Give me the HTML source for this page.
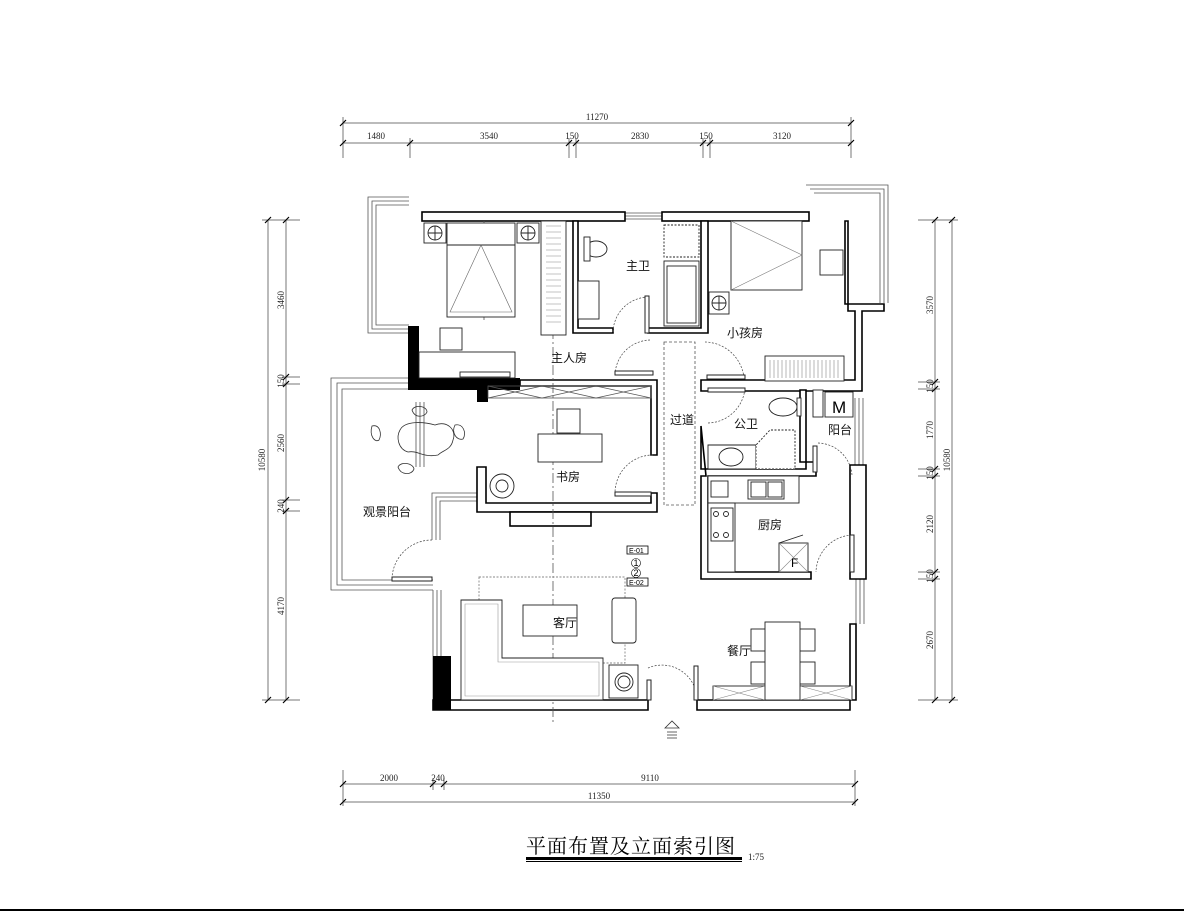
<!DOCTYPE html>
<html><head><meta charset="utf-8"><style>
html,body{margin:0;padding:0;background:#fff;}
svg{display:block}
.t{font-family:"Liberation Serif","Noto Serif CJK SC",serif;font-size:9px;fill:#222}
.l{font-family:"Liberation Sans","Noto Sans CJK SC",sans-serif;font-size:12px;fill:#111}
</style></head><body>
<svg width="1184" height="912" viewBox="0 0 1184 912" xmlns="http://www.w3.org/2000/svg">
<rect width="1184" height="912" fill="#fff"/>
<!-- dimension lines -->
<g stroke="#777" stroke-width="1" fill="none">
<line x1="343" y1="123" x2="851" y2="123"/>
<line x1="343" y1="143" x2="851" y2="143"/>
<line x1="343" y1="117" x2="343" y2="158"/><line x1="851" y1="117" x2="851" y2="158"/>
<line x1="410" y1="138" x2="410" y2="158"/><line x1="569" y1="138" x2="569" y2="158"/><line x1="576" y1="138" x2="576" y2="158"/>
<line x1="703" y1="138" x2="703" y2="158"/><line x1="710" y1="138" x2="710" y2="158"/>
<line x1="268" y1="220" x2="268" y2="700"/><line x1="286" y1="220" x2="286" y2="700"/>
<line x1="262" y1="220" x2="300" y2="220"/><line x1="262" y1="700" x2="300" y2="700"/>
<line x1="282" y1="377" x2="300" y2="377"/><line x1="282" y1="384" x2="300" y2="384"/>
<line x1="282" y1="500" x2="300" y2="500"/><line x1="282" y1="511" x2="300" y2="511"/>
<line x1="935" y1="220" x2="935" y2="700"/><line x1="952" y1="220" x2="952" y2="700"/>
<line x1="918" y1="220" x2="958" y2="220"/><line x1="918" y1="700" x2="958" y2="700"/>
<line x1="918" y1="382" x2="940" y2="382"/><line x1="918" y1="389" x2="940" y2="389"/>
<line x1="918" y1="469" x2="940" y2="469"/><line x1="918" y1="476" x2="940" y2="476"/>
<line x1="918" y1="572" x2="940" y2="572"/><line x1="918" y1="579" x2="940" y2="579"/>
<line x1="343" y1="784" x2="855" y2="784"/><line x1="343" y1="802" x2="855" y2="802"/>
<line x1="343" y1="770" x2="343" y2="806"/><line x1="855" y1="770" x2="855" y2="806"/>
<line x1="433" y1="778" x2="433" y2="790"/><line x1="444" y1="778" x2="444" y2="790"/>
</g>
<g stroke="#000" stroke-width="1.2">
<path d="M340 126l6-6M407 146l6-6M566 146l6-6M573 146l6-6M700 146l6-6M707 146l6-6M848 126l6-6M848 146l6-6M340 146l6-6"/>
<path d="M265 223l6-6M283 223l6-6M265 703l6-6M283 703l6-6M283 380l6-6M283 387l6-6M283 503l6-6M283 514l6-6"/>
<path d="M932 223l6-6M949 223l6-6M932 703l6-6M949 703l6-6M932 385l6-6M932 392l6-6M932 472l6-6M932 479l6-6M932 575l6-6M932 582l6-6"/>
<path d="M340 787l6-6M430 787l6-6M441 787l6-6M852 787l6-6M340 805l6-6M852 805l6-6"/>
</g>
<g class="t" text-anchor="middle">
<text x="597" y="120">11270</text><text x="376" y="139">1480</text><text x="489" y="139">3540</text>
<text x="572" y="139">150</text><text x="640" y="139">2830</text><text x="706" y="139">150</text><text x="782" y="139">3120</text>
<text x="389" y="781">2000</text><text x="438" y="781">240</text><text x="650" y="781">9110</text><text x="599" y="799">11350</text>
<text transform="translate(265,460) rotate(-90)">10580</text>
<text transform="translate(284,300) rotate(-90)">3460</text><text transform="translate(284,381) rotate(-90)">150</text>
<text transform="translate(284,443) rotate(-90)">2560</text><text transform="translate(284,506) rotate(-90)">240</text>
<text transform="translate(284,606) rotate(-90)">4170</text>
<text transform="translate(933,305) rotate(-90)">3570</text><text transform="translate(933,386) rotate(-90)">150</text>
<text transform="translate(933,430) rotate(-90)">1770</text><text transform="translate(933,473) rotate(-90)">150</text>
<text transform="translate(933,524) rotate(-90)">2120</text><text transform="translate(933,576) rotate(-90)">150</text>
<text transform="translate(933,640) rotate(-90)">2670</text><text transform="translate(950,460) rotate(-90)">10580</text>
</g>

<!-- balconies (triple lines) -->
<g fill="none" stroke="#555" stroke-width="0.8">
<path d="M409 197H368V333H409"/><path d="M409 201H372V329H409"/><path d="M409 205H376V325H409"/>
<path d="M806 185H888V303"/><path d="M810 189H884V303"/><path d="M814 193H880V303"/>
<path d="M408 378H331V590H433"/><path d="M408 383H337V585H433"/><path d="M408 389H342V580H433"/>
<path d="M477 493H432V540"/><path d="M477 497H436V540"/><path d="M477 501H440V540"/>
<path d="M433 590V700M437 590V700M441 590V656"/>
<path d="M420 402V467M424 402V467M416 402V467"/>
<path d="M855 398V465M859 398V465M863 398V465"/>
<path d="M856 579V624M860 579V624M864 579V624"/>
<path d="M625 213H662M625 216H662M625 219H662"/>
</g>
<!-- walls -->
<g fill="#fff" stroke="#000" stroke-width="1.6">
<rect x="422" y="212" width="203" height="9"/>
<rect x="662" y="212" width="147" height="9"/>
<path d="M573 221V333H613V328H578V221Z"/>
<path d="M648 328V333H708V221H701V328Z"/>
<path d="M845 221V304H884V311H862V391H701V380H855V311H848V221Z"/>
<path d="M520 380H657V455H651V386H520Z"/>
<path d="M651 493H657V512H477V467H486V503H651Z"/>
<rect x="510" y="512" width="81" height="14"/>
<path d="M701 426V469H806V462H816V476H708V572H811V579H701V476H706Z"/>
<path d="M800 390H806V462H800Z"/>
<path d="M850 465V579H866V465Z"/>
<path d="M850 624V710H697V700H856V624Z"/>
<path d="M433 700H648V710H433Z"/>
</g>
<g fill="#000">
<rect x="408" y="326" width="11" height="64"/>
<rect x="408" y="378" width="112" height="12"/>
<rect x="477" y="388" width="11" height="14"/>
<rect x="433" y="656" width="18" height="54"/>
</g>
<!-- study cabinets -->
<g fill="none" stroke="#555" stroke-width="0.8">
<rect x="488" y="386" width="163" height="12"/>
<path d="M488 386L542 398M542 386L488 398M542 386L596 398M596 386L542 398M596 386L651 398M651 386L596 398"/>
<!-- passage -->
<rect x="664" y="342" width="31" height="163" stroke-dasharray="3,2"/>
<!-- axis -->
<line x1="553" y1="221" x2="553" y2="722" stroke-dasharray="10,3,2,3"/>
<line x1="484" y1="221" x2="484" y2="320" stroke-dasharray="10,3,2,3"/>
</g>
<!-- furniture -->
<g fill="#fff" stroke="#222" stroke-width="0.9">
<rect x="447" y="223" width="68" height="94"/>
<line x1="447" y1="245" x2="515" y2="245"/>
<path d="M481 245L450 312H512Z" fill="none" stroke="#666" stroke-width="0.6"/>
<rect x="424" y="223" width="22" height="20"/><circle cx="435" cy="233" r="7"/><path d="M428 233h14M435 226v14"/>
<rect x="517" y="223" width="22" height="20"/><circle cx="528" cy="233" r="7"/><path d="M521 233h14M528 226v14"/>
<rect x="541" y="221" width="25" height="114"/>
<path d="M546 226h15M546 232h15M546 238h15M546 244h15M546 250h15M546 256h15M546 262h15M546 268h15M546 274h15M546 280h15M546 286h15M546 292h15M546 298h15M546 304h15M546 310h15M546 316h15M546 322h15" stroke="#888" stroke-width="0.6"/>
<rect x="440" y="328" width="22" height="22"/>
<rect x="419" y="352" width="96" height="26"/>
<rect x="460" y="372" width="50" height="5"/>
<ellipse cx="596" cy="249" rx="11" ry="8"/><rect x="584" y="237" width="6" height="24"/>
<rect x="578" y="281" width="21" height="38"/>
<rect x="664" y="225" width="35" height="32" stroke-dasharray="2,1.5"/>
<rect x="664" y="261" width="35" height="65"/><rect x="667" y="266" width="29" height="57"/>
<rect x="731" y="221" width="71" height="69"/>
<path d="M731 221L802 255L731 290" fill="none" stroke="#777" stroke-width="0.6"/>
<rect x="820" y="250" width="23" height="25"/>
<rect x="709" y="292" width="20" height="22"/><circle cx="719" cy="303" r="7"/><path d="M712 303h14M719 296v14"/>
<rect x="765" y="356" width="79" height="25"/>
<path d="M770 360v18M774 360v18M778 360v18M782 360v18M786 360v18M790 360v18M794 360v18M798 360v18M802 360v18M806 360v18M810 360v18M814 360v18M818 360v18M822 360v18M826 360v18M830 360v18M834 360v18M838 360v18" stroke="#888" stroke-width="0.6"/>
<rect x="557" y="409" width="23" height="24"/>
<rect x="538" y="434" width="64" height="28"/>
<circle cx="502" cy="486" r="12"/><circle cx="502" cy="486" r="6"/>
<ellipse cx="783" cy="407" rx="14" ry="9"/><rect x="797" y="398" width="4" height="18"/>
<path d="M708 445H756V469H708Z"/><ellipse cx="731" cy="457" rx="12" ry="9"/>
<path d="M756 469V445L770 430H795V469Z" stroke-dasharray="2,1.5"/>
<rect x="813" y="390" width="10" height="27"/>
<rect x="825" y="392" width="28" height="25"/>
<rect x="708" y="476" width="91" height="27"/>
<rect x="708" y="503" width="27" height="69"/>
<rect x="748" y="480" width="36" height="19"/><rect x="751" y="482" width="15" height="15"/><rect x="768" y="482" width="14" height="15"/>
<rect x="711" y="508" width="22" height="33"/>
<circle cx="716" cy="514" r="2.5"/><circle cx="726" cy="514" r="2.5"/><circle cx="716" cy="535" r="2.5"/><circle cx="726" cy="535" r="2.5"/>
<rect x="779" y="543" width="29" height="29"/><path d="M779 543L808 572M808 543L779 572" stroke="#888" stroke-width="0.6"/>
<path d="M779 543L803 535" />
<rect x="711" y="481" width="17" height="16"/>
<rect x="479" y="577" width="146" height="86" fill="none" stroke="#888" stroke-dasharray="2,1.5"/>
<path d="M461 600H502V658H603V700H461Z"/>
<path d="M465 604H498V662H599V696H465Z" fill="none" stroke="#999" stroke-width="0.6"/>
<rect x="523" y="605" width="54" height="31"/>
<rect x="612" y="598" width="24" height="45" rx="3"/>
<rect x="609" y="665" width="29" height="33"/><circle cx="624" cy="682" r="9"/><circle cx="624" cy="682" r="6"/>
<rect x="713" y="686" width="139" height="14"/>
<path d="M713 686L765 700M713 700L765 686M800 686L852 700M800 700L852 686" stroke="#888" stroke-width="0.6"/>
<rect x="751" y="629" width="24" height="22"/><rect x="790" y="629" width="25" height="22"/>
<rect x="751" y="662" width="24" height="22"/><rect x="790" y="662" width="25" height="22"/>
<rect x="765" y="622" width="35" height="78"/>
</g>
<!-- letters in boxes -->
<text x="832" y="413" font-family="Liberation Sans,sans-serif" font-size="17" fill="#000">M</text>
<text x="791" y="567" font-family="Liberation Sans,sans-serif" font-size="12" fill="#000">F</text>
<!-- balcony garden table -->
<g fill="none" stroke="#333" stroke-width="0.8">
<path d="M400 430c5-10 25-8 35-5c12-5 22 5 18 15c-2 10-10 10-15 15c-15 3-20-5-30-3c-10-3-12-15-8-22z"/>
<path d="M412 410c3-6 15-4 15 2c-2 5-12 7-15-2z"/>
<path d="M372 426c8-2 10 8 7 14c-4 3-10-4-7-14z"/>
<path d="M455 425c8-2 12 8 8 14c-6 2-12-6-8-14z"/>
<path d="M398 467c3-6 15-4 16 2c-2 6-13 7-16-2z"/>
</g>
<!-- doors -->
<g fill="none" stroke="#444" stroke-width="0.7" stroke-dasharray="2,1.5">
<path d="M648 297A36 36 0 0 0 613 333"/>
<path d="M615 375A36 36 0 0 1 650 340"/>
<path d="M744 378A40 40 0 0 0 705 342"/>
<path d="M708 423A38 38 0 0 0 745 388"/>
<path d="M653 455A38 38 0 0 0 615 493"/>
<path d="M818 443A35 35 0 0 1 852 475"/>
<path d="M852 535A38 38 0 0 0 816 572"/>
<path d="M432 540A40 40 0 0 0 392 578"/>
<path d="M648 668A35 35 0 0 1 697 700"/>
</g>
<g fill="#fff" stroke="#222" stroke-width="1">
<rect x="645" y="296" width="4" height="37"/>
<rect x="615" y="371" width="38" height="4"/>
<rect x="707" y="375" width="38" height="4"/>
<rect x="708" y="388" width="37" height="4"/>
<rect x="615" y="492" width="36" height="4"/>
<rect x="813" y="446" width="4" height="26"/>
<rect x="850" y="535" width="4" height="37"/>
<rect x="392" y="577" width="40" height="4"/>
<rect x="647" y="680" width="4" height="20"/>
<rect x="694" y="666" width="4" height="34"/>
</g>
<!-- index symbol -->
<g font-family="Liberation Sans,sans-serif" font-size="7" fill="#000">
<rect x="627" y="546" width="21" height="8" fill="#fff" stroke="#000" stroke-width="0.8"/><text x="629" y="553">E-01</text>
<circle cx="636" cy="563" r="4.5" fill="#fff" stroke="#000" stroke-width="0.6"/><text x="633.5" y="566" font-size="9">1</text>
<circle cx="636" cy="573" r="4.5" fill="#fff" stroke="#000" stroke-width="0.6"/><text x="633.5" y="576" font-size="9">2</text>
<rect x="627" y="578" width="21" height="8" fill="#fff" stroke="#000" stroke-width="0.8"/><text x="629" y="585">E-02</text>
</g>
<!-- north -->
<g fill="none" stroke="#333" stroke-width="0.8"><path d="M665 728L672 721L679 728Z"/><path d="M667 732h10M667 735h10M667 738h10"/></g>
<!-- room labels -->
<g class="l">
<text x="626" y="270">主卫</text><text x="551" y="362">主人房</text><text x="727" y="337">小孩房</text>
<text x="670" y="424">过道</text><text x="734" y="428">公卫</text><text x="828" y="434">阳台</text>
<text x="556" y="481">书房</text><text x="363" y="516">观景阳台</text><text x="758" y="529">厨房</text>
<text x="553" y="627">客厅</text><text x="727" y="655">餐厅</text>
</g>
<!-- title -->
<text x="526" y="853" font-family="Liberation Serif,'Noto Serif CJK SC',serif" font-size="20" letter-spacing="1" fill="#000">平面布置及立面索引图</text>
<rect x="526" y="857" width="216" height="3" fill="#000"/>
<rect x="526" y="861" width="216" height="1" fill="#000"/>
<text x="748" y="860" class="t" font-size="7">1:75</text>
<rect x="0" y="909" width="1184" height="2" fill="#000"/>
</svg>
</body></html>
